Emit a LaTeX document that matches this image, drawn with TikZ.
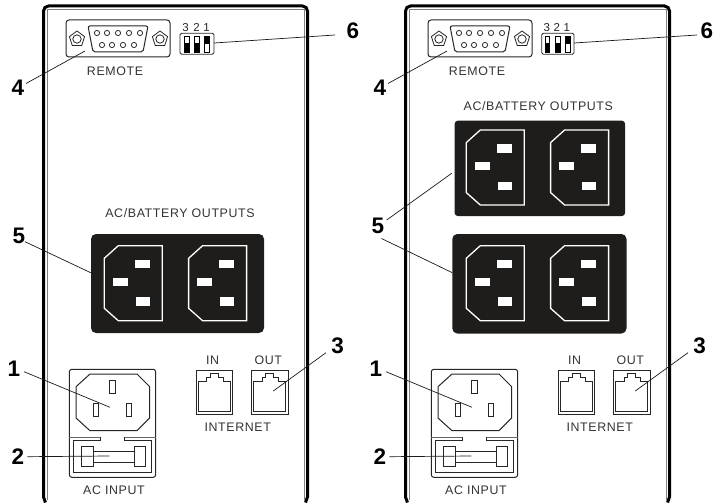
\documentclass[tikz,border=0pt]{standalone}
\usepackage{fontspec}
\setmainfont{Liberation Sans}
\newfontfamily\lblfont[LetterSpace=5]{Liberation Sans}
\definecolor{plateblack}{HTML}{1F1D1B}
\tikzset{
  panelouter/.style={line width=3pt,black},
  panelinner/.style={line width=1.2pt,black!50},
  part/.style={draw=black!85,line width=1pt},
  thin part/.style={draw=black!85,line width=0.8pt},
  leader/.style={draw=black!90,line width=0.7pt},
  callout/.style={font=\bfseries\fontsize{22.5}{22}\selectfont,inner sep=0pt},
  caption/.style={font=\lblfont\fontsize{12.4}{13}\selectfont,inner sep=0pt,text=black!80},
  dipnum/.style={font=\fontsize{11.5}{12}\selectfont,inner sep=0pt,text=black!85},
  blackplate/.style={fill=plateblack},
  whiteslot/.style={fill=white},
  outletline/.style={draw=white,line width=1.3pt},
  switchbox/.style={draw=black!85,line width=0.9pt,fill=white,rounded corners=1.5pt},
  dipslide/.style={draw=black,line width=0.9pt},
}
\newcommand{\backpanel}{%
  \draw[panelouter] (45.5,502.5) -- (43.5,497) -- (43.5,11) arc[start angle=180,end angle=270,radius=5] -- (302.5,6) arc[start angle=270,end angle=360,radius=5] -- (307.5,497) -- (305.5,502.5);
  \draw[panelinner] (47.5,500) -- (47.5,9.5) -- (304.5,9.5) -- (304.5,500);
  % DB9
  \draw[part,rounded corners=3pt] (66,20) rectangle (170,57);
  \draw[part,rounded corners=2pt] (88,26) -- (148,26) -- (143,52) -- (93,52) -- cycle;
  \foreach \x in {97,107,118,129,140} \draw[thin part] (\x,33) circle[radius=2.6];
  \foreach \x in {102,112,123,134} \draw[thin part] (\x,45) circle[radius=2.6];
  \foreach \x in {77,160} {
    \draw[thin part] (\x,31) -- (\x+7.6,36.6) -- (\x+4.7,45.6) -- (\x-4.7,45.6) -- (\x-7.6,36.6) -- cycle;
    \draw[thin part] (\x,39) circle[radius=4.2];
  }
  \node[caption] at (115,71) {REMOTE};
  % inlet
  \draw[part,rounded corners=2.5pt] (69.3,369.3) rectangle (155.7,477.3);
  \draw[part,black!60] (69.3,437) -- (100.5,437);
  \draw[part,black!60] (124,437) -- (155.7,437);
  \draw[part] (100.5,437) -- (100.5,440) -- (73,440) -- (73,472.7) -- (151.7,472.7) -- (151.7,440) -- (124,440) -- (124,437);
  \draw[part] (76,386.7) -- (90,374) -- (137,374) -- (149.7,386.7) -- (149.7,418) -- (137,430.7) -- (90,430.7) -- (76,418) -- cycle;
  \draw[part] (109.3,380.7) rectangle (115,393.3);
  \draw[part] (93,403.3) rectangle (98.7,416);
  \draw[part] (126.3,403.3) rectangle (131.3,416.7);
  \draw[part] (93.3,451) -- (134,451);
  \draw[part] (93.3,462.7) -- (134,462.7);
  \draw[part] (81.7,446.7) rectangle (93.3,466.7);
  \draw[part] (134,446.7) rectangle (145.7,466.7);
  \node[caption] at (114,490.7) {AC INPUT};
  % jacks
  \foreach \x in {196,251.5} {
    \draw[part] (\x,370.7) rectangle ++(36.7,43.6);
    \draw[part] (\x+2.3,381.5) -- (\x+10.7,381.5) -- (\x+10.7,377) -- (\x+14,377) -- (\x+14,373.6) -- (\x+22.3,373.6) -- (\x+22.3,377) -- (\x+27.3,377) -- (\x+27.3,381.5) -- (\x+34,381.5) -- (\x+34,411.3) -- (\x+2.3,411.3) -- cycle;
  }
  \node[caption] at (212.7,360.7) {IN};
  \node[caption] at (268.3,360.7) {OUT};
  \node[caption] at (237.7,427.7) {INTERNET};
}
\newcommand{\outletpair}[2]{%
  \foreach \dx in {0,84.3} {
    \begin{scope}[shift={(#1+\dx,#2)}]
      \draw[outletline] (0,12.6) -- (14,0) -- (58,0) -- (58,75) -- (14,75) -- (0,62.6) -- cycle;
      \fill[whiteslot] (30.7,14.3) rectangle (45.4,22.6);
      \fill[whiteslot] (8.4,32) rectangle (23.4,40.3);
      \fill[whiteslot] (31.4,51.6) rectangle (45.7,60);
    \end{scope}
  }
}
\newcommand{\dipswitch}[4]{%
  \draw[switchbox] (#1,33.3) rectangle (#2,54.3);
  \foreach \i in {0,1} {
    \draw[dipslide] (#3+\i*#4,36) rectangle ++(4.8,16);
    \fill (#3+\i*#4,43) rectangle ++(4.8,9);
  }
  \draw[dipslide] (#3+2*#4,36) rectangle ++(4.8,16);
  \fill (#3+2*#4,36) rectangle ++(4.8,8);
}
\begin{document}
\begin{tikzpicture}[x=1pt,y=-1pt]
\useasboundingbox (0,0) rectangle (713,503);
% ---------- left panel
\backpanel
\fill[blackplate,rounded corners=5pt] (91,234) rectangle (264,333);
\outletpair{104.3}{245.7}
\node[caption] at (180,213) {AC/BATTERY OUTPUTS};
\dipswitch{180}{214}{184.2}{10}
\node[dipnum] at (185.5,27.5) {3};
\node[dipnum] at (196.5,27.5) {2};
\node[dipnum] at (206.5,27.5) {1};
\node[callout] (n1) at (14,369) {1};
\node[callout] (n2) at (18,456.5) {2};
\node[callout] (n3) at (337.7,346) {3};
\node[callout] (n4) at (18,88) {4};
\node[callout] (n5) at (19,236) {5};
\node[callout] (n6) at (353,31) {6};
\coordinate (e1) at (110,407.3);
\coordinate (e2) at (109.3,456);
\coordinate (e3) at (273.3,391);
\coordinate (e4) at (85,51);
\coordinate (e5) at (90.7,272.7);
\coordinate (e6) at (214,43);
\draw[leader] (24,371.7) -- (e1);
\draw[leader] (27.3,456.7) -- (e2);
\draw[leader] (326,352.7) -- (e3);
\draw[leader] (26,83.5) -- (e4);
\draw[leader] (25,241.7) -- (e5);
\draw[leader] (e6) -- (335,35);
% ---------- right panel
\begin{scope}[shift={(362,0)}]
\backpanel
\end{scope}
\fill[blackplate,rounded corners=3pt] (454.7,120.7) rectangle (625,216);
\outletpair{466.3}{130}
\fill[blackplate,rounded corners=5pt] (452.3,234) rectangle (626.5,333.5);
\outletpair{466.3}{245.7}
\node[caption] at (538.3,105.7) {AC/BATTERY OUTPUTS};
\dipswitch{541.7}{574}{545.1}{10.2}
\node[dipnum] at (546.7,27.7) {3};
\node[dipnum] at (556.7,27.7) {2};
\node[dipnum] at (566.7,27.7) {1};
\node[callout] (m1) at (376,369) {1};
\node[callout] (m2) at (380,456.5) {2};
\node[callout] (m3) at (699.7,346) {3};
\node[callout] (m4) at (380,88) {4};
\node[callout] (m5) at (378,226) {5};
\node[callout] (m6) at (707,31) {6};
\coordinate (f1) at (472,407.3);
\coordinate (f2) at (471.3,456);
\coordinate (f3) at (635.3,391);
\coordinate (f4) at (447,51);
\coordinate (f5a) at (451.7,173.3);
\coordinate (f5b) at (452.3,272.7);
\coordinate (f6) at (574,43);
\draw[leader] (386,371.7) -- (f1);
\draw[leader] (389.3,456.7) -- (f2);
\draw[leader] (688,352.7) -- (f3);
\draw[leader] (388,83.5) -- (f4);
\draw[leader] (386.7,220) -- (f5a);
\draw[leader] (381.5,238.5) -- (f5b);
\draw[leader] (f6) -- (697,35);
\end{tikzpicture}
\end{document}
